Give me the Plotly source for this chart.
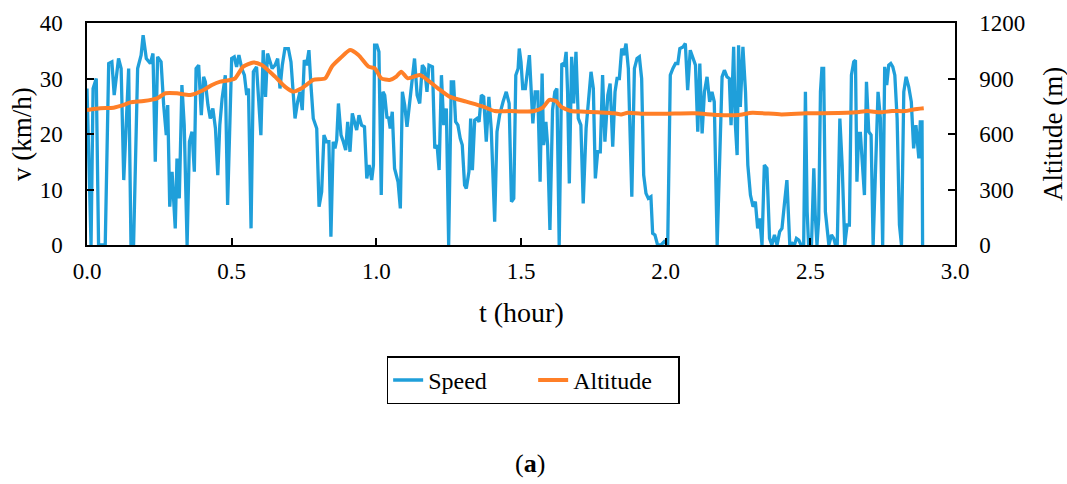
import plotly.graph_objects as go

# Speed series (t in hours, v in km/h)
speed_t = [
    0.000, 0.014, 0.021, 0.032, 0.040, 0.063, 0.075, 0.086, 0.094, 0.109, 0.118, 0.127, 0.144, 0.152, 0.161,
    0.175, 0.187, 0.194, 0.205, 0.219, 0.228, 0.236, 0.244, 0.256, 0.265, 0.274, 0.279, 0.286, 0.294, 0.300,
    0.305, 0.311, 0.319, 0.328, 0.336, 0.346, 0.354, 0.363, 0.371, 0.377, 0.386, 0.395, 0.403, 0.409, 0.418,
    0.426, 0.435, 0.444, 0.452, 0.459, 0.467, 0.478, 0.486,
    0.500, 0.509, 0.517, 0.525, 0.535, 0.544, 0.552, 0.558, 0.567, 0.575, 0.586, 0.601, 0.609, 0.617, 0.624,
    0.632, 0.640, 0.650, 0.659, 0.667, 0.675, 0.684, 0.696, 0.705, 0.719, 0.728, 0.736, 0.744, 0.751, 0.759,
    0.767, 0.774, 0.782, 0.794, 0.802, 0.811, 0.819, 0.828, 0.836, 0.843, 0.851, 0.857, 0.863, 0.869, 0.878,
    0.886, 0.894, 0.901, 0.909, 0.917, 0.926, 0.932, 0.940, 0.949, 0.959, 0.967, 0.975, 0.984, 0.990,
    0.994, 1.002, 1.009, 1.017, 1.023, 1.029, 1.037, 1.042, 1.048, 1.055, 1.063, 1.075, 1.083, 1.090, 1.098,
    1.106, 1.113, 1.121, 1.132, 1.141, 1.150, 1.159, 1.167, 1.175, 1.182, 1.194, 1.202, 1.210, 1.217, 1.225,
    1.233, 1.242, 1.250, 1.259, 1.267, 1.274, 1.282, 1.290, 1.297, 1.305, 1.311, 1.320, 1.326, 1.332, 1.340,
    1.348, 1.355, 1.363, 1.371, 1.380, 1.389, 1.397, 1.409, 1.417, 1.426, 1.438, 1.449, 1.459, 1.467, 1.475,
    1.482, 1.490,
    1.494, 1.500, 1.506, 1.515, 1.529, 1.541, 1.549, 1.558, 1.566, 1.573, 1.578, 1.586, 1.592, 1.600, 1.609,
    1.617, 1.624, 1.632, 1.641, 1.650, 1.656, 1.661, 1.667, 1.675, 1.682, 1.690, 1.698, 1.707, 1.715, 1.725,
    1.733, 1.742, 1.750, 1.757, 1.765, 1.774, 1.782, 1.790, 1.800, 1.808, 1.817, 1.825, 1.832, 1.840, 1.848,
    1.855, 1.863, 1.871, 1.883, 1.892, 1.901, 1.909, 1.917, 1.924, 1.932, 1.940, 1.949, 1.955, 1.963, 1.972,
    1.984, 1.995,
    2.007, 2.016, 2.025, 2.034, 2.042, 2.049, 2.060, 2.068, 2.076, 2.085, 2.095, 2.103, 2.111, 2.118, 2.126,
    2.134, 2.143, 2.152, 2.160, 2.168, 2.178, 2.187, 2.195, 2.203, 2.212, 2.220, 2.226, 2.235, 2.241, 2.247,
    2.252, 2.258, 2.267, 2.276, 2.284, 2.293, 2.302, 2.310, 2.318, 2.325, 2.333, 2.341, 2.350, 2.359, 2.367,
    2.376, 2.385, 2.394, 2.402, 2.410, 2.419, 2.429, 2.437, 2.445, 2.452, 2.460, 2.468, 2.477, 2.483, 2.489,
    2.494,
    2.504, 2.512, 2.517, 2.523, 2.529, 2.535, 2.540, 2.546, 2.552, 2.564, 2.573, 2.581, 2.587, 2.593, 2.602,
    2.610, 2.619, 2.627, 2.635, 2.642, 2.650, 2.656, 2.661, 2.667, 2.673, 2.681, 2.687, 2.694, 2.702, 2.710,
    2.717, 2.734, 2.742, 2.750, 2.757, 2.764, 2.771, 2.778, 2.785, 2.792, 2.800, 2.808, 2.815, 2.823, 2.831,
    2.840, 2.849, 2.857, 2.865, 2.875, 2.880, 2.886, 2.888,
]
speed_v = [
    28.2, 0, 28.2, 30.0, 0, 0, 32.7, 33.0, 27.0, 33.6, 31.8, 11.7, 31.8, 0, 0,
    31.8, 34.2, 37.8, 33.6, 32.7, 34.5, 15.0, 33.9, 33.0, 25.2, 19.8, 25.2, 6.9, 13.2, 7.2,
    3.0, 15.6, 8.4, 28.8, 21.6, 0, 18.6, 20.4, 13.2, 31.8, 32.4, 23.4, 30.3, 29.4, 25.2,
    22.8, 24.6, 21.0, 12.6, 21.6, 26.4, 30.6, 7.2,
    33.6, 33.9, 32.1, 34.2, 31.8, 30.6, 27.0, 28.2, 3.0, 31.2, 32.1, 19.8, 35.1, 26.7, 34.5,
    33.0, 31.8, 32.4, 33.6, 28.2, 32.4, 35.4, 35.4, 33.0, 22.8, 25.8, 27.6, 24.3, 33.3, 32.4,
    35.1, 28.8, 22.8, 21.0, 6.9, 9.6, 19.8, 18.6, 18.6, 1.5, 18.6, 17.4, 18.9, 25.5, 19.8,
    18.6, 17.1, 22.2, 16.8, 23.7, 21.9, 20.7, 23.4, 21.6, 21.3, 12.0, 14.4, 11.7, 14.4,
    36.0, 36.0, 34.8, 9.0, 27.6, 27.0, 22.8, 23.1, 21.0, 24.0, 13.8, 11.4, 6.6, 27.6, 25.2,
    21.3, 24.6, 28.8, 33.6, 27.0, 25.5, 32.4, 31.8, 27.6, 32.4, 32.1, 17.4, 18.0, 13.5, 30.6,
    21.6, 24.6, 0, 29.4, 29.4, 22.2, 21.6, 19.2, 18.0, 10.8, 10.2, 13.2, 22.8, 13.5, 22.5,
    22.8, 22.2, 27.0, 26.7, 18.6, 26.7, 21.0, 4.2, 20.4, 23.4, 25.8, 27.6, 25.5, 7.8, 8.4,
    30.6, 31.8,
    35.4, 33.0, 28.2, 28.2, 34.2, 21.9, 27.6, 27.6, 11.4, 30.9, 18.0, 22.2, 18.0, 2.7, 24.3,
    27.6, 28.2, 0, 32.7, 32.4, 34.8, 27.6, 11.1, 33.9, 25.5, 34.8, 22.8, 21.6, 7.5, 21.0,
    25.8, 31.2, 28.2, 12.0, 16.8, 16.8, 30.6, 18.6, 27.0, 29.1, 17.7, 27.6, 30.0, 30.0, 35.4,
    34.2, 36.3, 31.8, 8.7, 31.8, 33.6, 33.9, 30.0, 12.6, 9.3, 8.4, 8.7, 2.1, 1.8, 0,
    0, 0.6,
    0, 30.6, 31.8, 32.7, 32.7, 35.4, 35.7, 36.3, 27.9, 35.1, 33.6, 32.4, 20.4, 32.7, 20.1,
    27.6, 30.3, 25.8, 27.6, 25.8, 0, 15.6, 30.3, 31.5, 30.3, 30.0, 21.6, 35.7, 21.6, 16.2,
    36.0, 24.9, 35.7, 27.6, 14.4, 9.0, 6.9, 7.8, 3.0, 4.8, 0, 14.4, 13.8, 1.2, 0,
    1.8, 0, 2.4, 3.0, 7.2, 11.7, 0, 0.3, 0, 1.2, 0.9, 0, 0, 27.6, 6.0,
    0,
    0, 13.8, 5.4, 0, 4.8, 27.6, 31.8, 31.8, 6.0, 0, 1.8, 1.2, 0, 0, 22.8,
    14.4, 0, 3.6, 3.6, 30.6, 33.0, 33.3, 11.4, 20.1, 20.1, 13.2, 9.0, 29.4, 20.4, 19.8,
    0, 27.6, 22.8, 0, 32.1, 28.8, 32.4, 32.7, 32.1, 30.6, 22.8, 3.6, 0, 27.6, 30.3,
    28.5, 25.8, 17.4, 21.6, 15.6, 22.2, 22.2, 0,
]

# Altitude series (t in hours, altitude in m)
alt_t = [
    0.000, 0.046, 0.092, 0.127, 0.150, 0.196, 0.242, 0.271, 0.311, 0.357, 0.403, 0.432, 0.461, 0.495,
    0.512, 0.540, 0.575, 0.604, 0.650, 0.684, 0.713, 0.742, 0.782, 0.823, 0.846, 0.875, 0.909, 0.938,
    0.973, 0.995, 1.017, 1.046, 1.069, 1.086, 1.109, 1.150, 1.184, 1.213, 1.253, 1.311, 1.369, 1.409,
    1.461, 1.512, 1.546, 1.575, 1.598, 1.621, 1.638, 1.673, 1.707, 1.765, 1.823, 1.846, 1.869, 1.915,
    2.000, 2.100, 2.180, 2.250, 2.300, 2.400, 2.483, 2.540, 2.656, 2.696, 2.742, 2.782, 2.828, 2.857, 2.892,
]
alt_v = [
    730, 739, 742, 757, 771, 778, 793, 820, 820, 811, 838, 865, 883, 892,
    901, 964, 987, 973, 910, 856, 829, 847, 892, 901, 964, 1009, 1054, 1027,
    964, 955, 901, 892, 910, 937, 901, 919, 883, 847, 802, 775, 748, 724,
    724, 721, 724, 742, 784, 778, 748, 724, 721, 717, 712, 706, 715, 710,
    710, 712, 703, 703, 715, 706, 712, 712, 717, 724, 717, 724, 724, 733, 739,
]

x_ticks = [0, 0.5, 1.0, 1.5, 2.0, 2.5, 3.0]
y_ticks = [0, 10, 20, 30, 40]
y2_ticks = [0, 300, 600, 900, 1200]

FONT = "Liberation Serif"
BLUE = "#1F9FDA"
ORANGE = "#FF7F27"

fig = go.Figure()
fig.add_trace(go.Scatter(x=speed_t, y=speed_v, mode="lines", name="Speed",
                         line=dict(color=BLUE, width=3.3), yaxis="y"))
fig.add_trace(go.Scatter(x=alt_t, y=alt_v, mode="lines", name="Altitude",
                         line=dict(color=ORANGE, width=4, shape="spline", smoothing=0.6), yaxis="y2"))

axis_common = dict(showline=True, linecolor="black", linewidth=1.5, ticks="inside",
                   ticklen=7, tickwidth=1.5, tickcolor="black", showgrid=False, zeroline=False,
                   tickfont=dict(family=FONT, size=23, color="black"))

fig.update_layout(
    width=1067, height=484,
    margin=dict(l=87, r=112, t=23, b=239),
    paper_bgcolor="white", plot_bgcolor="white",
    font=dict(family=FONT, size=23, color="black"),
    xaxis=dict(range=[0, 3], tickvals=x_ticks, tickformat=".1f", mirror=True,
               ticklabelstandoff=5, **axis_common),
    yaxis=dict(range=[0, 40], tickvals=y_ticks, ticklabelstandoff=18, **axis_common),
    yaxis2=dict(range=[0, 1200], tickvals=y2_ticks, overlaying="y", side="right",
                ticklabelstandoff=18, **axis_common),
    showlegend=True,
    legend=dict(orientation="h", x=0.514, y=-0.61, xanchor="center", yanchor="middle",
                bordercolor="black", borderwidth=1.5, bgcolor="white",
                font=dict(family=FONT, size=24, color="black"),
                itemwidth=30, entrywidth=100, entrywidthmode="pixels"),
    annotations=[
        dict(text="v (km/h)", xref="paper", yref="paper", x=-0.075, y=0.5, textangle=-90,
             showarrow=False, xanchor="center", yanchor="middle", font=dict(family=FONT, size=27)),
        dict(text="Altitude (m)", xref="paper", yref="paper", x=1.113, y=0.5, textangle=-90,
             showarrow=False, xanchor="center", yanchor="middle", font=dict(family=FONT, size=27)),
        dict(text="t (hour)", xref="paper", yref="paper", x=0.5, y=-0.302,
             showarrow=False, xanchor="center", yanchor="middle", font=dict(family=FONT, size=28)),
        dict(text="(<b>a</b>)", xref="paper", yref="paper", x=0.51, y=-0.982,
             showarrow=False, xanchor="center", yanchor="middle", font=dict(family=FONT, size=26)),
    ],
)

fig.write_html("out.html")
